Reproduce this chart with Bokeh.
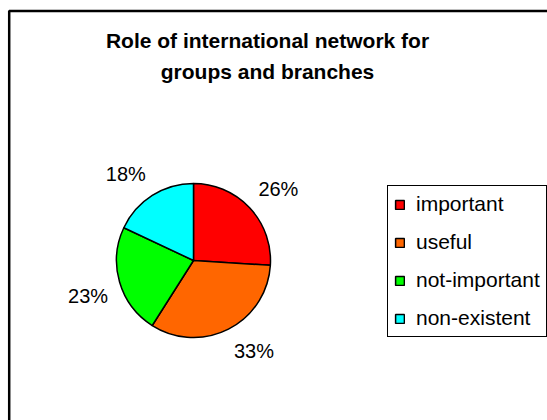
import math
from bokeh.plotting import figure
from bokeh.models import Range1d, BoxAnnotation, Label, Legend, LegendItem, ColumnDataSource
from bokeh.core.properties import value
from bokeh.embed import file_html
from bokeh.resources import INLINE

# ---- data ----
categories = ["important", "useful", "not-important", "non-existent"]
values = [26, 33, 23, 18]
colors = ["#FF0000", "#FF6600", "#00FF00", "#00FFFF"]
title_lines = ["Role of international network for", "groups and branches"]

# ---- layout (canvas pixels) ----
W, H = 547, 420
CX, CY, R = 193, 160, 77
FONT = "Liberation Sans"

p = figure(width=W, height=H, output_backend="svg", toolbar_location=None,
           x_range=Range1d(0, W), y_range=Range1d(0, H), min_border=0)
p.axis.visible = False
p.grid.visible = False
p.outline_line_color = None
p.background_fill_color = "white"
p.border_fill_color = "white"

# chart border (only left and top edges fall inside the crop)
p.add_layout(BoxAnnotation(left=8.7, top=H - 10.5, right=W + 20, bottom=-20,
                           fill_alpha=0, line_color="black", line_alpha=1.0,
                           line_width=2.5))

# pie: start at 12 o'clock, go clockwise
total = float(sum(values))
starts, ends, mids = [], [], []
cum = 0.0
for v in values:
    a0 = math.pi / 2 - 2 * math.pi * (cum + v) / total
    a1 = math.pi / 2 - 2 * math.pi * cum / total
    starts.append(a0)
    ends.append(a1)
    mids.append((a0 + a1) / 2)
    cum += v

src = ColumnDataSource(dict(cat=categories, val=values, color=colors,
                            start=starts, end=ends))
r = p.wedge(x=CX, y=CY, radius=R, start_angle="start", end_angle="end",
            fill_color="color", line_color="black", line_width=1.5, source=src)

# percentage labels outside the pie
d = R + 12
lab = dict(x=[], y=[], t=[], align=[], base=[])
for v, m in zip(values, mids):
    lab["x"].append(CX + d * math.cos(m))
    lab["y"].append(CY + d * math.sin(m))
    lab["t"].append(f"{v}%")
    lab["align"].append("left" if math.cos(m) >= 0 else "right")
    lab["base"].append("bottom" if math.sin(m) >= 0 else "top")
p.text(x="x", y="y", text="t", text_align="align", text_baseline="base",
       text_font=value(FONT), text_font_size="20px", text_color="black",
       source=ColumnDataSource(lab))

# title
for i, line in enumerate(title_lines):
    p.add_layout(Label(x=267, y=H - 40 - 31 * i, text=line, text_font=FONT,
                       text_font_size="21px", text_font_style="bold",
                       text_align="center", text_baseline="middle",
                       text_color="black"))

# legend
items = [LegendItem(label=c, renderers=[r], index=i) for i, c in enumerate(categories)]
legend = Legend(items=items, location=(387, 83), label_text_font=FONT,
                label_text_font_size="21px", label_text_color="black",
                glyph_width=11, glyph_height=11,
                label_height=24, spacing=14, padding=6, margin=0,
                label_standoff=11, border_line_color="black",
                border_line_alpha=1.0, border_line_width=1.5,
                background_fill_color="white", background_fill_alpha=1.0)
p.add_layout(legend, "center")

open("out.html", "w").write(file_html(p, INLINE))
